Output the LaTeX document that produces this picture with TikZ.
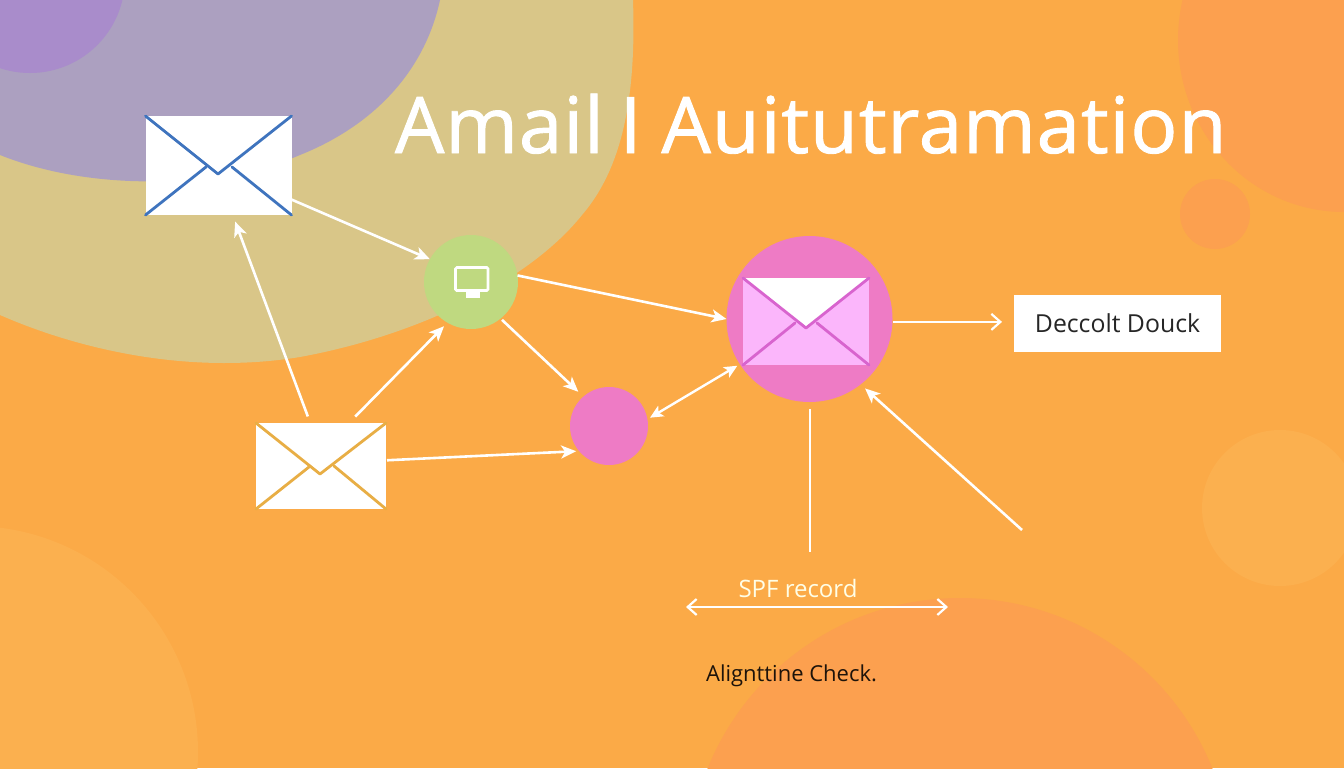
\documentclass[tikz,border=0pt]{standalone}
\usepackage{fontspec}
\setmainfont{Open Sans}
\newfontfamily\titlefont[FakeBold=1.2,LetterSpace=1.3]{Open Sans}
\usetikzlibrary{arrows.meta}
\definecolor{bgorange}{HTML}{FBAA47}
\definecolor{khaki}{HTML}{D9C688}
\definecolor{lilac}{HTML}{ACA0C0}
\definecolor{violet}{HTML}{A98CCB}
\definecolor{deeporange}{HTML}{FCA04F}
\definecolor{softorange}{HTML}{FBB04F}
\definecolor{leaf}{HTML}{BFD980}
\definecolor{rose}{HTML}{EE7BC5}
\definecolor{lightrose}{HTML}{FBB6FB}
\definecolor{roseline}{HTML}{D864CE}
\definecolor{envblue}{HTML}{3F74BE}
\definecolor{envorange}{HTML}{E8AE45}
\def\px{.75pt}
\tikzset{
  envbox/.style={fill=white,draw=none,inner sep=0pt,outer sep=0pt},
  disc/.style={circle,draw=none,inner sep=0pt,outer sep=0pt},
  link/.style={draw=white,line width=2.6*\px,-{Stealth[length=15*\px,width=13*\px,inset=4*\px]}},
  barb/.style={draw=white,line width=2.2*\px,-{Straight Barb[length=9*\px,width=16*\px]}},
  twoway/.style={draw=white,line width=2.4*\px,{Stealth[length=13*\px,width=12*\px,inset=3*\px]}-{Stealth[length=13*\px,width=12*\px,inset=3*\px]}},
  flapline/.style={line width=2.8*\px,line cap=round,line join=round},
  caption/.style={inner sep=0pt,outer sep=0pt},
}
\begin{document}
\begin{tikzpicture}[x=.75pt,y=-.75pt]
\useasboundingbox (0,0) rectangle (1344,768);
\clip (0,0) rectangle (1344,768);
\fill[bgorange] (0,0) rectangle (1344,768);
% background blobs
\fill[deeporange] (1344,40) ellipse [x radius=166,y radius=172];
\fill[deeporange] (1215,214) circle [radius=35];
\fill[softorange] (1280,508) circle [radius=78];
\fill[softorange] (-28,752) circle [radius=226];
\fill[deeporange] (960,870) circle [radius=272];
\fill[khaki] (0,0) -- (633,0) .. controls (636,90) and (625,165) .. (582,215)
  .. controls (530,280) and (420,335) .. (300,357)
  .. controls (190,375) and (80,350) .. (0,315) -- cycle;
\fill[lilac] (0,0) -- (440,0) .. controls (425,70) and (375,125) .. (300,155)
  .. controls (230,185) and (100,195) .. (0,155) -- cycle;
\fill[violet] (30,-22) circle [radius=95];
% title
\node[caption,anchor=base west,text=white,font=\titlefont\fontsize{58.5pt}{60pt}\selectfont] (title) at (395,153) {Amail\hspace{-4pt} I\hspace{-1pt} Auitutramation};
% nodes
\node[envbox,minimum width=146*\px,minimum height=99*\px] (mailA) at (218.5,165.5) {};
\node[envbox,minimum width=130*\px,minimum height=86*\px] (mailB) at (321,466) {};
\node[disc,fill=leaf,minimum size=94*\px] (hub) at (471,282) {};
\node[disc,fill=rose,minimum size=78*\px] (dot) at (609,426) {};
\node[disc,fill=rose,minimum size=166*\px] (big) at (809.5,319) {};
\node[fill=lightrose,draw=none,inner sep=0pt,outer sep=0pt,minimum width=126*\px,minimum height=87*\px] (mailC) at (806,321.5) {};
\node[fill=white,draw=none,inner sep=0pt,outer sep=0pt,minimum width=207*\px,minimum height=57*\px,text=black!85,font=\fontsize{18.6pt}{22pt}\selectfont] (label) at (1117.5,323.5) {Deccolt Douck};
% envelope details
\draw[flapline,envblue] (mailA.north west) -- (218,174) -- (mailA.north east);
\draw[flapline,envblue] (mailA.south west) -- (206,167);
\draw[flapline,envblue] (mailA.south east) -- (232,167);
\draw[flapline,envorange] (mailB.north west) -- (320,474) -- (mailB.north east);
\draw[flapline,envorange] (mailB.south west) -- (309,467);
\draw[flapline,envorange] (mailB.south east) -- (334,466);
\fill[white] (mailC.north west) -- (806,328) -- (mailC.north east) -- cycle;
\draw[flapline,roseline] (mailC.north west) -- (806,328) -- (mailC.north east);
\draw[flapline,roseline] (mailC.south west) -- (795,323);
\draw[flapline,roseline] (mailC.south east) -- (817,323);
% monitor icon
\draw[white,line width=2.6*\px,rounded corners=1pt] (455.5,267.5) rectangle (488,290.5);
\fill[white] (466,291) rectangle (480,298);
% connectors
\draw[link] (mailA.-25) -- (hub.151);
\draw[link,shorten <=7*\px,shorten >=7*\px] (mailB.104) -- (mailA.-74);
\draw[link,shorten <=9*\px,shorten >=5*\px] (mailB.57) -- (hub.240);
\draw[link,shorten <=1*\px,shorten >=3*\px] (mailB.5) -- (dot.220);
\draw[link] (hub.8.5) -- (big.180);
\draw[link,shorten <=2*\px,shorten >=7*\px] (hub.-51) -- (dot.131);
\draw[twoway,shorten <=3*\px,shorten >=3*\px] (dot.10) -- (big.213);
\draw[barb,shorten <=1*\px,shorten >=12*\px] (big.-2) -- (big.-2 -| label.west);
\coordinate (drop) at (809.5,552);
\draw[white,line width=2*\px,shorten <=7*\px] (big.south) -- (drop);
\coordinate (feed) at (1022,530);
\draw[link,shorten >=6*\px] (feed) -- (big.-52.7);
\coordinate (spfL) at (686,607);
\coordinate (spfR) at (948,607);
\draw[barb,{Straight Barb[length=9*\px,width=16*\px]}-{Straight Barb[length=9*\px,width=16*\px]}] (spfL) -- (spfR);
\node[caption,text=white!90!yellow,font=\fontsize{18pt}{20pt}\selectfont] (spf) at (798,588) {SPF record};
\node[caption,text=black!85!brown,font=\fontsize{16.5pt}{20pt}\selectfont] (align) at (791.5,676) {Alignttine Check.};
\end{tikzpicture}
\end{document}
